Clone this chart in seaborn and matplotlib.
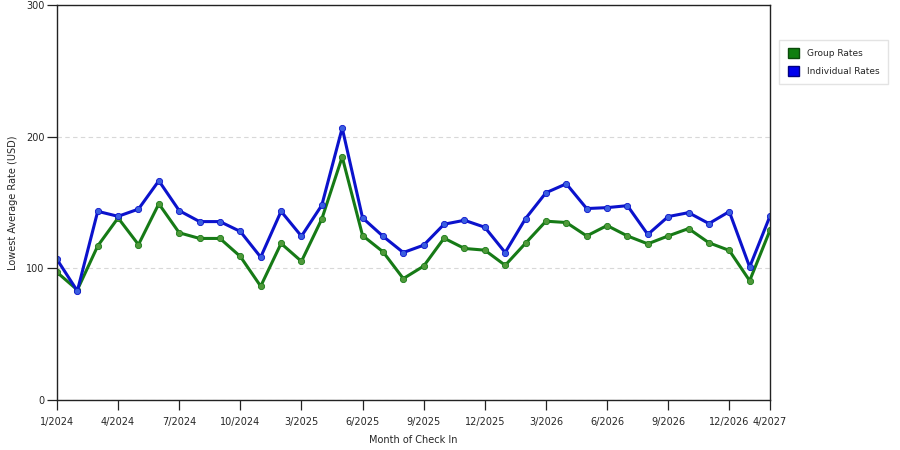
import pandas as pd
import matplotlib.pyplot as plt
import seaborn as sns
from matplotlib.patches import Patch

# months of check in (some months have no data)
months = ["1/2024", "2/2024", "3/2024", "4/2024", "5/2024", "6/2024",
          "7/2024", "8/2024", "9/2024", "10/2024", "11/2024", "12/2024",
          "3/2025", "4/2025", "5/2025", "6/2025", "7/2025", "8/2025",
          "9/2025", "10/2025", "11/2025", "12/2025", "1/2026", "2/2026",
          "3/2026", "4/2026", "5/2026", "6/2026", "7/2026", "8/2026",
          "9/2026", "10/2026", "11/2026", "12/2026", "3/2027", "4/2027"]

group_rates = [97, 83.6, 117, 138.3, 118, 149, 127, 122.7, 122.7, 109, 86.4, 118.9,
               105.3, 137.5, 184.6, 124.9, 112.6, 92.2, 101.7, 122.9, 115.1, 113.8,
               102.3, 119.1, 135.8, 134.8, 124.6, 132.5, 124.6, 118.6, 124.6, 130.2,
               119.4, 113.6, 90.6, 129]

individual_rates = [106.8, 82.8, 143.3, 139.5, 145, 166.5, 143.8, 135.5, 135.5, 128, 108.5, 143.3,
                    124.4, 148, 206.6, 138.3, 124.4, 112, 117.6, 133.5, 136.5, 131.2,
                    112, 137.8, 157.4, 164.2, 145.4, 146.1, 147.6, 125.7, 139.3, 142.3,
                    134, 143.1, 101, 139.8]

tick_idx = list(range(0, 34, 3)) + [35]

df = pd.DataFrame({
    "idx": list(range(len(months))) * 2,
    "rate": group_rates + individual_rates,
    "series": ["Group Rates"] * len(months) + ["Individual Rates"] * len(months),
})

sns.set_style("white")
plt.rcParams["font.family"] = ["DejaVu Sans"]

line_colors = {"Group Rates": "#167a16", "Individual Rates": "#0b12cc"}
face_colors = {"Group Rates": "#4f9a3a", "Individual Rates": "#3a5ee0"}

fig = plt.figure(figsize=(9, 4.5), dpi=100)
ax = fig.add_axes([0.0633, 0.1111, 0.7923, 0.8778])

for name in ["Group Rates", "Individual Rates"]:
    sub = df[df["series"] == name]
    sns.lineplot(data=sub, x="idx", y="rate", ax=ax, color=line_colors[name],
                 linewidth=2.2, marker="o", markersize=4.5,
                 markerfacecolor=face_colors[name], markeredgecolor=line_colors[name],
                 markeredgewidth=0.6, legend=False)

ax.set_xlim(0, len(months) - 1)
ax.set_ylim(0, 300)
ax.set_yticks([0, 100, 200, 300])
ax.set_xticks(tick_idx)
ax.set_xticklabels([months[i] for i in tick_idx])
ax.yaxis.grid(True, linestyle=(0, (4, 3)), color="#d8d8d8", linewidth=0.8)
ax.set_axisbelow(True)

for s in ax.spines.values():
    s.set_color("#222222")
    s.set_linewidth(1.0)

ax.tick_params(axis="both", which="major", labelsize=7, length=7, width=0.9,
               color="#222222", direction="out", bottom=True, left=True)
ax.tick_params(axis="x", pad=5)
ax.tick_params(axis="y", pad=2)

ax.set_xlabel("Month of Check In", fontsize=7, labelpad=6)
ax.set_ylabel("Lowest Average Rate (USD)", fontsize=7, labelpad=6)

handles = [Patch(facecolor="#0f7f0f", edgecolor="#0a4a0a", label="Group Rates"),
           Patch(facecolor="#0000ee", edgecolor="#000080", label="Individual Rates")]
fig.legend(handles=handles, loc="upper left", bbox_to_anchor=(0.866, 0.912),
           borderaxespad=0, fontsize=6.5, frameon=True, fancybox=False,
           edgecolor="#dddddd", handlelength=1.3, handleheight=1.3, borderpad=0.9,
           labelspacing=0.9, handletextpad=0.9)

fig.savefig("out.png", dpi=100)
